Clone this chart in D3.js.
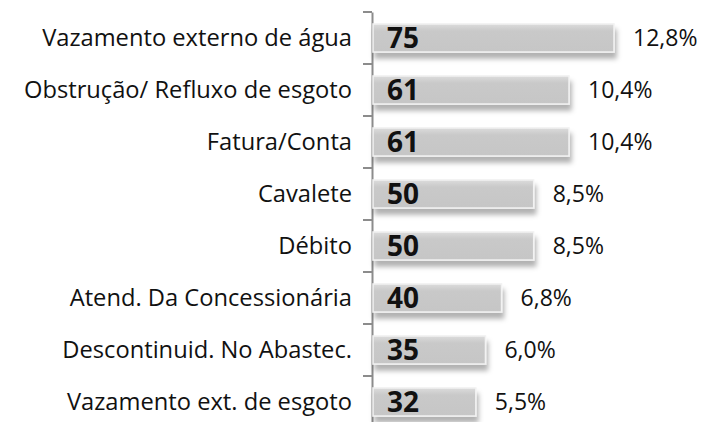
<!DOCTYPE html>
<html>
<head>
<meta charset="utf-8">
<script src="https://cdn.jsdelivr.net/npm/d3@7"></script>
<style>
  body { margin: 0; background: #fff; }
  svg { display: block; }
</style>
</head>
<body>
<div id="chart"></div>
<script>
const categories = [
  "Vazamento externo de água",
  "Obstrução/ Refluxo de esgoto",
  "Fatura/Conta",
  "Cavalete",
  "Débito",
  "Atend. Da Concessionária",
  "Descontinuid. No Abastec.",
  "Vazamento ext. de esgoto"
];
const counts = [75, 61, 61, 50, 50, 40, 35, 32];
const shares = [12.8, 10.4, 10.4, 8.5, 8.5, 6.8, 6.0, 5.5];

const width = 701, height = 422;
const margin = {top: 12, left: 372};
const font = "'Open Sans', Lato, sans-serif";

const svg = d3.select("#chart").append("svg")
    .attr("width", width)
    .attr("height", height);

// soft drop shadow under bars
const defs = svg.append("defs");
const f = defs.append("filter").attr("id", "shadow")
    .attr("x", "-5%").attr("y", "-20%").attr("width", "115%").attr("height", "180%");
f.append("feDropShadow")
    .attr("dx", 2).attr("dy", 6).attr("stdDeviation", 2.5)
    .attr("flood-color", "#000").attr("flood-opacity", 0.3);

const grad = defs.append("linearGradient").attr("id", "barfill")
    .attr("x1", 0).attr("y1", 0).attr("x2", 0).attr("y2", 1);
grad.append("stop").attr("offset", "0%").attr("stop-color", "#dcdcdc");
grad.append("stop").attr("offset", "25%").attr("stop-color", "#c9c9c9");
grad.append("stop").attr("offset", "100%").attr("stop-color", "#c6c6c6");

const x = d3.scaleLinear().domain([0, 75]).range([margin.left + 1, margin.left + 1 + 241]);
const y = d3.scaleBand().domain(categories)
    .range([margin.top, margin.top + 52 * categories.length])
    .paddingInner(0.46).paddingOuter(0.23);

const yAxis = svg.append("g")
    .attr("transform", `translate(${margin.left},0)`)
    .call(d3.axisLeft(y.copy().paddingInner(0).paddingOuter(0)).tickSize(0).tickFormat(""));
yAxis.select(".domain").attr("stroke", "#8c8c8c").attr("stroke-width", 2);

// category boundary ticks
const bounds = d3.range(categories.length + 1).map(i => margin.top + 52 * i);
svg.append("g").selectAll("line")
  .data(bounds)
  .join("line")
    .attr("x1", margin.left - 9).attr("x2", margin.left)
    .attr("y1", d => d).attr("y2", d => d)
    .attr("stroke", "#8c8c8c").attr("stroke-width", 2);

const rows = categories.map((c, i) => ({cat: c, n: counts[i], pct: shares[i]}));

svg.append("g").selectAll("rect")
  .data(rows)
  .join("rect")
    .attr("x", x(0))
    .attr("y", d => y(d.cat))
    .attr("width", d => x(d.n) - x(0))
    .attr("height", y.bandwidth())
    .attr("fill", "url(#barfill)")
    .attr("stroke", "#f2f2f2")
    .attr("stroke-width", 1.5)
    .attr("filter", "url(#shadow)");

// category labels
svg.append("g").selectAll("text")
  .data(rows)
  .join("text")
    .attr("x", margin.left - 20)
    .attr("y", d => y(d.cat) + y.bandwidth() / 2)
    .attr("dy", "0.35em")
    .attr("text-anchor", "end")
    .style("font", `23.7px ${font}`)
    .attr("fill", "#111")
    .text(d => d.cat);

// counts inside bars
svg.append("g").selectAll("text")
  .data(rows)
  .join("text")
    .attr("x", x(0) + 14)
    .attr("y", d => y(d.cat) + y.bandwidth() / 2)
    .attr("dy", "0.37em")
    .style("font", `bold 28px ${font}`)
    .attr("fill", "#111")
    .text(d => d.n);

// share labels
const fmt = v => d3.format(".1f")(v).replace(".", ",") + "%";
svg.append("g").selectAll("text")
  .data(rows)
  .join("text")
    .attr("x", d => x(d.n) + 19)
    .attr("y", d => y(d.cat) + y.bandwidth() / 2)
    .attr("dy", "0.35em")
    .style("font", `23px ${font}`)
    .attr("fill", "#111")
    .text(d => fmt(d.pct));
</script>
</body>
</html>
